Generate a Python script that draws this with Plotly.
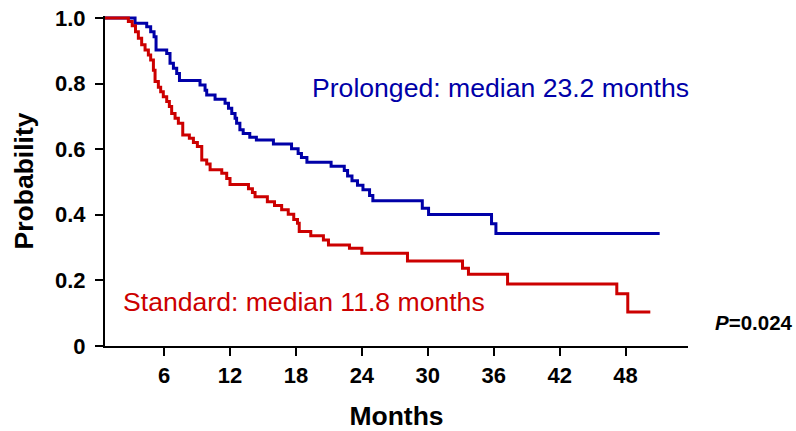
import plotly.graph_objects as go

# Kaplan-Meier step data (months, survival probability)
prolonged_t = [0, 3.36, 4.42, 4.78, 5.09, 5.27, 6.24, 6.54, 6.85, 7.15, 7.4, 9.27, 9.73, 9.88,
               10.64, 11.55, 11.86, 12.16, 12.46, 12.6, 12.9, 13.2, 13.8, 14.4, 15.95, 17.6,
               18.2, 18.5, 19.0, 21.2, 22.4, 22.7, 23.1, 23.6, 24.1, 24.7, 25.0, 29.5, 30.07,
               35.8, 36.2, 51.1]
prolonged_s = [1.0, 0.984, 0.973, 0.958, 0.943, 0.902, 0.892, 0.862, 0.847, 0.831, 0.809, 0.796,
               0.780, 0.765, 0.752, 0.740, 0.725, 0.709, 0.694, 0.679, 0.659, 0.648, 0.636, 0.628,
               0.616, 0.601, 0.587, 0.575, 0.560, 0.548, 0.535, 0.518, 0.504, 0.490, 0.476, 0.459,
               0.443, 0.420, 0.401, 0.373, 0.343, 0.343]

standard_t = [0, 2.75, 3.1, 3.4, 3.66, 3.96, 4.27, 4.57, 4.78, 5.03, 5.18, 5.48, 5.69, 5.93,
              6.24, 6.48, 6.69, 7.0, 7.3, 7.7, 8.3, 8.67, 9.03, 9.43, 9.88, 10.19, 11.25, 11.7,
              12.0, 13.68, 14.04, 14.28, 15.4, 16.05, 16.7, 17.3, 17.8, 18.14, 18.3, 19.35,
              20.5, 20.96, 22.87, 24.0, 28.15, 33.16, 33.7, 37.26, 47.2, 48.2, 50.25]
standard_s = [1.0, 0.989, 0.976, 0.958, 0.938, 0.918, 0.902, 0.887, 0.872, 0.841, 0.806, 0.789,
              0.775, 0.760, 0.745, 0.730, 0.709, 0.694, 0.679, 0.643, 0.633, 0.620, 0.608, 0.567,
              0.555, 0.537, 0.527, 0.511, 0.492, 0.479, 0.468, 0.455, 0.440, 0.428, 0.415, 0.402,
              0.386, 0.374, 0.349, 0.336, 0.323, 0.308, 0.298, 0.283, 0.259, 0.237, 0.219, 0.189,
              0.159, 0.104, 0.104]

x_ticks = [6, 12, 18, 24, 30, 36, 42, 48]
y_ticks = [0, 0.2, 0.4, 0.6, 0.8, 1.0]
y_tick_labels = ["0", "0.2", "0.4", "0.6", "0.8", "1.0"]

BLUE = "rgb(0,0,168)"
RED = "rgb(204,0,0)"
FONT = "Liberation Sans, Arial, sans-serif"

W, H = 796, 431
ML, MR, MT, MB = 105, 108, 16, 85
PW = W - ML - MR
PH = H - MT - MB

fig = go.Figure()
fig.add_trace(go.Scatter(x=prolonged_t, y=prolonged_s, mode="lines", line_shape="hv",
                         line=dict(color=BLUE, width=3), showlegend=False, hoverinfo="skip"))
fig.add_trace(go.Scatter(x=standard_t, y=standard_s, mode="lines", line_shape="hv",
                         line=dict(color=RED, width=3), showlegend=False, hoverinfo="skip"))

def px_x(p):
    return (p - ML) / PW

def px_y(p):
    return (H - MB - p) / PH

fig.update_layout(
    width=W, height=H,
    margin=dict(l=ML, r=MR, t=MT, b=MB, pad=0, autoexpand=False),
    paper_bgcolor="white", plot_bgcolor="white",
    font=dict(family=FONT, color="black"),
    xaxis=dict(range=[0.624, 53.68], tickvals=x_ticks, ticks="outside", ticklen=8,
               tickwidth=2, tickcolor="black", showline=True, linecolor="black", linewidth=2,
               showgrid=False, zeroline=False, automargin=False,
               tickfont=dict(family=FONT, size=22, weight="bold"), ticklabelstandoff=1,
               title=dict(text="Months", font=dict(family=FONT, size=26.5, weight="bold"),
                          standoff=22)),
    yaxis=dict(range=[0, 1.006], tickvals=y_ticks, ticktext=y_tick_labels, ticks="outside",
               ticklen=8, tickwidth=2, tickcolor="black", showline=True, linecolor="black",
               linewidth=2, showgrid=False, zeroline=False, automargin=False,
               tickfont=dict(family=FONT, size=22, weight="bold"), ticklabelstandoff=5,
               title=dict(text="Probability", font=dict(family=FONT, size=26.5, weight="bold"),
                          standoff=14)),
    shapes=[dict(type="line", xref="paper", yref="paper", x0=px_x(96), x1=0, y0=0, y1=0,
                 line=dict(color="black", width=2))],
    annotations=[
        dict(text="Prolonged: median 23.2 months", xref="paper", yref="paper",
             x=px_x(310), y=px_y(88), xanchor="left", yanchor="middle", showarrow=False,
             font=dict(family=FONT, size=26.6, color=BLUE)),
        dict(text="Standard: median 11.8 months", xref="paper", yref="paper",
             x=px_x(121), y=px_y(302), xanchor="left", yanchor="middle", showarrow=False,
             font=dict(family=FONT, size=26.6, color=RED)),
        dict(text="<b><i>P</i>=0.024</b>", xref="paper", yref="paper",
             x=px_x(713), y=px_y(322), xanchor="left", yanchor="middle", showarrow=False,
             font=dict(family=FONT, size=20.5, color="black")),
    ],
)

fig.write_html("out.html")
